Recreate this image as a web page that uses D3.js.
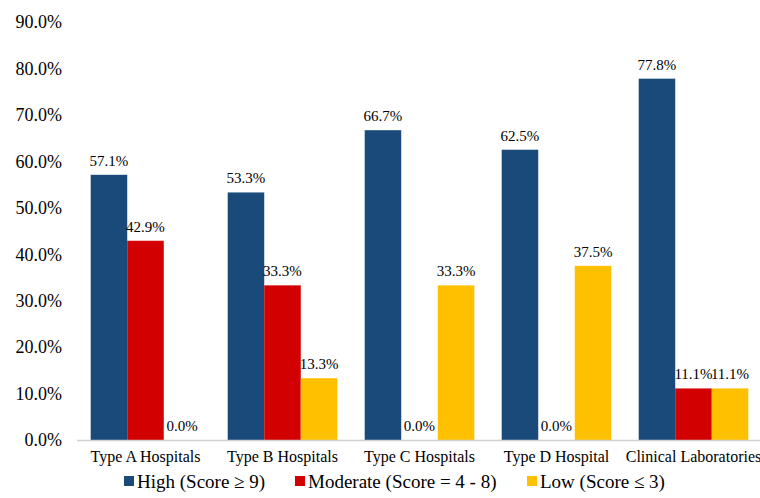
<!DOCTYPE html>
<html>
<head>
<meta charset="utf-8">
<script src="https://cdn.jsdelivr.net/npm/d3@7"></script>
<style>
  body { margin: 0; background: #fff; }
  svg text { font-family: "Liberation Serif", "DejaVu Serif"; }
</style>
</head>
<body>
<div id="chart"></div>
<script>
const categories = ["Type A Hospitals", "Type B Hospitals", "Type C Hospitals", "Type D Hospital", "Clinical Laboratories"];
const seriesNames = ["High (Score \u2265 9)", "Moderate (Score = 4 - 8)", "Low (Score \u2264 3)"];
const high = [57.1, 53.3, 66.7, 62.5, 77.8];
const moderate = [42.9, 33.3, 0.0, 0.0, 11.1];
const low = [0.0, 13.3, 33.3, 37.5, 11.1];
const yTicks = [0, 10, 20, 30, 40, 50, 60, 70, 80, 90];

const colors = ["#194A7A", "#D20000", "#FFC000"];
const width = 760, height = 498;
const margin = { top: 22, right: -2, bottom: 58, left: 77 };

const svg = d3.select("#chart").append("svg")
  .attr("width", width)
  .attr("height", height)
  .attr("fill", "#000");

const x = d3.scaleBand()
  .domain(categories)
  .range([margin.left, width - margin.right])
  .paddingInner(0.2)
  .paddingOuter(0.1);

const xs = d3.scaleBand()
  .domain(d3.range(3))
  .range([0, x.bandwidth()]);

const y = d3.scaleLinear()
  .domain([0, 90])
  .range([height - margin.bottom, margin.top]);

// y labels (no axis line)
svg.append("g")
  .selectAll("text")
  .data(yTicks)
  .join("text")
  .attr("x", 62)
  .attr("y", d => y(d))
  .attr("dy", "0.35em")
  .attr("text-anchor", "end")
  .attr("font-size", 18)
  .text(d => d.toFixed(1) + "%");

const rows = categories.map((c, i) => ({ cat: c, vals: [high[i], moderate[i], low[i]] }));

const g = svg.append("g")
  .selectAll("g")
  .data(rows)
  .join("g")
  .attr("transform", d => `translate(${x(d.cat)},0)`);

g.selectAll("rect")
  .data(d => d.vals.map((v, k) => ({ v, k })))
  .join("rect")
  .attr("x", d => xs(d.k))
  .attr("width", xs.bandwidth())
  .attr("y", d => y(d.v))
  .attr("height", d => y(0) - y(d.v))
  .attr("fill", d => colors[d.k]);

g.selectAll("text.val")
  .data(d => d.vals.map((v, k) => ({ v, k })))
  .join("text")
  .attr("class", "val")
  .attr("x", d => xs(d.k) + xs.bandwidth() / 2)
  .attr("y", d => y(d.v) - 9)
  .attr("text-anchor", "middle")
  .attr("font-size", 15)
  .text(d => d.v.toFixed(1) + "%");

// baseline
svg.append("line")
  .attr("x1", margin.left)
  .attr("x2", width)
  .attr("y1", y(0) + 0.5)
  .attr("y2", y(0) + 0.5)
  .attr("stroke", "#d0d0d0")
  .attr("stroke-width", 1.5);

// category labels
svg.append("g")
  .selectAll("text")
  .data(categories)
  .join("text")
  .attr("x", d => x(d) + x.bandwidth() / 2)
  .attr("y", height - margin.bottom + 22)
  .attr("text-anchor", "middle")
  .attr("font-size", 16)
  .text(d => d);

// legend
const legendX = [124, 295, 527];
const lg = svg.append("g")
  .selectAll("g")
  .data(seriesNames)
  .join("g")
  .attr("transform", (d, i) => `translate(${legendX[i]},${height - 10})`);

lg.append("rect")
  .attr("y", -12)
  .attr("width", 10)
  .attr("height", 10)
  .attr("fill", (d, i) => colors[i]);

lg.append("text")
  .attr("x", 13)
  .attr("y", 0)
  .attr("font-size", 19)
  .text(d => d);
</script>
</body>
</html>
